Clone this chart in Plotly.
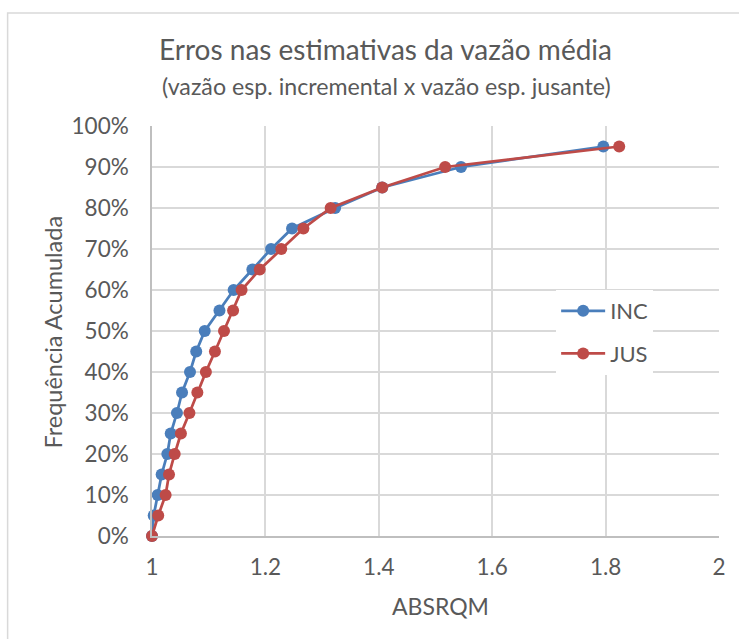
import plotly.graph_objects as go

freq = [0, 5, 10, 15, 20, 25, 30, 35, 40, 45, 50, 55, 60, 65, 70, 75, 80, 85, 90, 95]
inc = [1.000, 1.003, 1.010, 1.017, 1.027, 1.033, 1.044, 1.053, 1.067, 1.078,
       1.093, 1.119, 1.144, 1.177, 1.210, 1.247, 1.323, 1.406, 1.545, 1.796]
jus = [1.000, 1.011, 1.024, 1.030, 1.040, 1.051, 1.066, 1.080, 1.095, 1.111,
       1.127, 1.143, 1.158, 1.190, 1.228, 1.267, 1.315, 1.406, 1.517, 1.824]
x_ticks = [1, 1.2, 1.4, 1.6, 1.8, 2]
x_ticklabels = ["1", "1.2", "1.4", "1.6", "1.8", "2"]
y_ticks = list(range(0, 101, 10))
y_ticklabels = [f"{v}%" for v in y_ticks]

FONT = "Lato"
TXT = "#595959"
BLUE = "#4A7EBB"
RED = "#BE4B48"

W, H = 739, 639
L, R, T, B = 151.5, 20, 126, 103
pw = W - L - R
ph = H - T - B

def px(xp):
    return (xp - L) / pw

def py(yp):
    return (H - B - yp) / ph

fig = go.Figure()
fig.add_trace(go.Scatter(x=inc, y=freq, mode="lines+markers", name="INC",
                         line=dict(color=BLUE, width=2.75), cliponaxis=False,
                         marker=dict(color=BLUE, size=12), legendgroup="a"))
fig.add_trace(go.Scatter(x=jus, y=freq, mode="lines+markers", name="JUS",
                         line=dict(color=RED, width=2.75), cliponaxis=False,
                         marker=dict(color=RED, size=12), legendgroup="b"))

fig.update_layout(
    width=W, height=H,
    margin=dict(l=L, r=R, t=T, b=B, autoexpand=False),
    paper_bgcolor="white", plot_bgcolor="white",
    font=dict(family=FONT, color=TXT, size=22),
    showlegend=True,
    legend=dict(x=px(556), y=py(290), xanchor="left", yanchor="top",
                bgcolor="white", borderwidth=0, font=dict(size=22, color=TXT),
                tracegroupgap=11, traceorder="grouped", itemwidth=44),
    xaxis=dict(range=[1, 2], tickvals=x_ticks, ticktext=x_ticklabels,
               showgrid=True, gridcolor="#D9D9D9", gridwidth=1.5,
               showline=True, linecolor="#BFBFBF", linewidth=1.5,
               zeroline=False, ticks="", ticklabelstandoff=10,
               tickfont=dict(size=22.5, color=TXT, family=FONT)),
    yaxis=dict(range=[0, 100], tickvals=y_ticks, ticktext=y_ticklabels,
               showgrid=True, gridcolor="#D9D9D9", gridwidth=1.5,
               showline=True, linecolor="#BFBFBF", linewidth=1.5,
               zeroline=False, ticks="", ticklabelstandoff=17,
               tickfont=dict(size=22.5, color=TXT, family=FONT)),
    shapes=[dict(type="rect", xref="paper", yref="paper",
                 x0=px(7), x1=px(760), y0=py(660), y1=py(13),
                 line=dict(color="#D9D9D9", width=1.5), fillcolor="rgba(0,0,0,0)",
                 layer="below")],
    annotations=[
        dict(text="Erros nas estimativas da vazão média", xref="paper", yref="paper",
             x=px(385), y=py(49), xanchor="center", yanchor="middle", showarrow=False,
             font=dict(size=28, color=TXT, family=FONT)),
        dict(text="(vazão esp. incremental x vazão esp. jusante)", xref="paper", yref="paper",
             x=px(386), y=py(86), xanchor="center", yanchor="middle", showarrow=False,
             font=dict(size=23.2, color=TXT, family=FONT)),
        dict(text="ABSRQM", xref="paper", yref="paper",
             x=px(440), y=py(606), xanchor="center", yanchor="middle", showarrow=False,
             font=dict(size=23, color=TXT, family=FONT)),
        dict(text="Frequência Acumulada", xref="paper", yref="paper", textangle=-90,
             x=px(52), y=py(332), xanchor="center", yanchor="middle", showarrow=False,
             font=dict(size=23.5, color=TXT, family=FONT)),
    ],
)

fig.write_html("out.html")
